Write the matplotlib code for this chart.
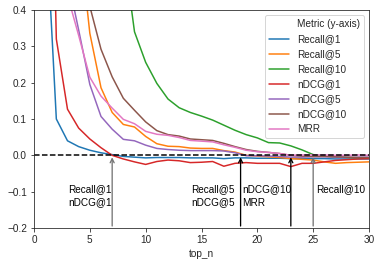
import numpy as np
import matplotlib
matplotlib.use("Agg")
import matplotlib.pyplot as plt
from matplotlib.lines import Line2D
import seaborn as sns

sns.set_style("ticks")
plt.rcParams['font.family'] = ['Liberation Sans', 'DejaVu Sans']
plt.rcParams['font.size'] = 10

top_n = list(range(1, 31))

recall_1 = [0.69, 0.10, 0.040, 0.024, 0.014, 0.007, 0.002, -0.003, -0.005, -0.007,
            -0.006, -0.006, -0.006, -0.007, -0.007, -0.007, -0.009, -0.007, -0.007, -0.008,
            -0.008, -0.008, -0.009, -0.009, -0.009, -0.009, -0.010, -0.010, -0.010, -0.010]
recall_5 = [2.0, 1.3, 0.9, 0.62, 0.336, 0.186, 0.118, 0.085, 0.078, 0.052,
            0.032, 0.025, 0.024, 0.020, 0.019, 0.019, 0.013, 0.009, 0.0, -0.002,
            -0.004, -0.006, -0.009, -0.011, -0.013, -0.018, -0.022, -0.020, -0.019, -0.018]
recall_10 = [3.0, 2.5, 2.0, 1.6, 1.2, 0.95, 0.75, 0.57, 0.34, 0.256,
             0.198, 0.155, 0.131, 0.118, 0.108, 0.097, 0.083, 0.069, 0.057, 0.048,
             0.035, 0.034, 0.026, 0.015, 0.002, -0.002, -0.004, -0.006, -0.007, -0.008]
ndcg_1 = [1.65, 0.32, 0.127, 0.075, 0.045, 0.021, 0.0, -0.010, -0.018, -0.025,
          -0.017, -0.013, -0.015, -0.020, -0.019, -0.017, -0.030, -0.022, -0.020, -0.022,
          -0.022, -0.022, -0.031, -0.022, -0.022, -0.018, -0.014, -0.012, -0.010, -0.009]
ndcg_5 = [2.0, 1.2, 0.49, 0.345, 0.195, 0.107, 0.072, 0.044, 0.040, 0.028,
          0.019, 0.016, 0.014, 0.013, 0.013, 0.013, 0.012, 0.007, -0.001, -0.001,
          -0.002, -0.003, -0.005, -0.005, -0.004, -0.004, -0.005, -0.006, -0.005, -0.005]
ndcg_10 = [3.0, 2.0, 1.2, 0.70, 0.41, 0.292, 0.216, 0.157, 0.124, 0.092,
           0.068, 0.057, 0.053, 0.045, 0.043, 0.041, 0.033, 0.024, 0.016, 0.011,
           0.008, 0.005, 0.0, -0.002, -0.003, -0.003, -0.004, -0.005, -0.006, -0.006]
mrr = [1.5, 0.8, 0.44, 0.33, 0.215, 0.163, 0.130, 0.099, 0.087, 0.066,
       0.058, 0.055, 0.049, 0.041, 0.039, 0.037, 0.029, 0.022, 0.014, 0.010,
       0.008, 0.005, 0.0, 0.001, 0.001, 0.001, 0.0, 0.0, 0.001, 0.0]

metric_names = ["Recall@1", "Recall@5", "Recall@10", "nDCG@1", "nDCG@5", "nDCG@10", "MRR"]
metric_values = [recall_1, recall_5, recall_10, ndcg_1, ndcg_5, ndcg_10, mrr]

# crossing points marked by arrows, and their labels
cross_x = [7, 18.5, 23, 25]
cross_labels = [["Recall@1", "nDCG@1"], ["Recall@5", "nDCG@5"], ["nDCG@10", "MRR"], ["Recall@10"]]
label_x = [3.05, 14.1, 18.65, 25.3]
arrow_colors = ["0.45", "black", "black", "0.45"]

fig = plt.figure(figsize=(381 / 72, 264 / 72), dpi=72)
ax = fig.add_axes([34 / 381, 36 / 264, 335 / 381, 218 / 264])

colors = sns.color_palette("tab10")
handles = [Line2D([], [], color="none")]
labels = ["Metric (y-axis)"]
for i, (name, vals) in enumerate(zip(metric_names, metric_values)):
    ln, = ax.plot(top_n, vals, color=colors[i], lw=1.5, label=name)
    handles.append(ln)
    labels.append(name)

ax.axhline(0, color="k", ls="--", lw=1.5)

for x, labs, lx, c in zip(cross_x, cross_labels, label_x, arrow_colors):
    ax.annotate("", xy=(x, 0), xytext=(x, -0.2),
                arrowprops=dict(arrowstyle="->", color=c, lw=1.3))
    for k, lab in enumerate(labs):
        ax.text(lx, -0.093 - 0.037 * k, lab, ha="left", va="center",
                fontsize=10, color="black")

ax.set_xlim(0, 30)
ax.set_ylim(-0.2, 0.4)
ax.set_xticks([0, 5, 10, 15, 20, 25, 30])
ax.set_yticks([-0.2, -0.1, 0.0, 0.1, 0.2, 0.3, 0.4])
ax.set_xlabel("top_n")
ax.legend(handles, labels, loc="upper right")

fig.savefig("out.png", dpi=72)
